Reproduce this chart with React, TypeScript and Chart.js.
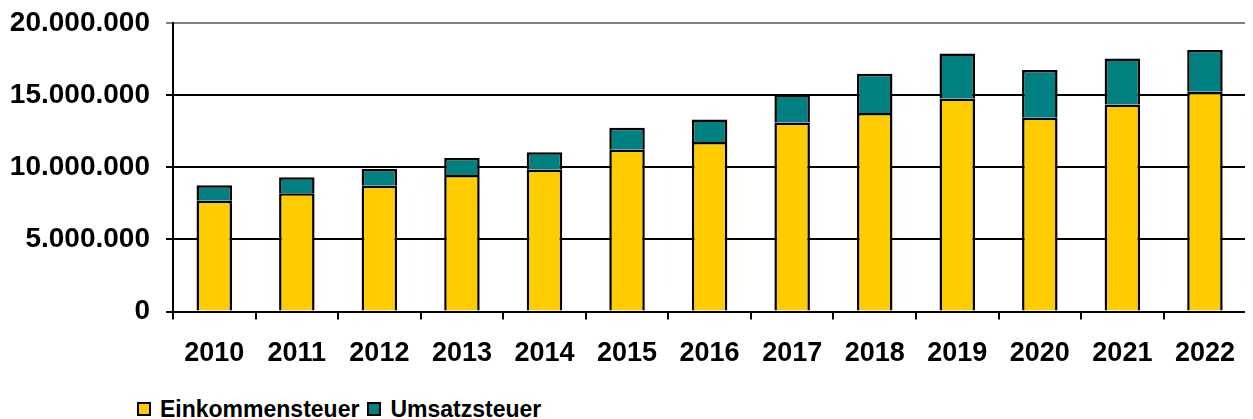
import React, { useEffect, useRef } from "react";
import { Chart, registerables } from "chart.js";

Chart.register(...registerables);

const years = ["2010", "2011", "2012", "2013", "2014", "2015", "2016", "2017", "2018", "2019", "2020", "2021", "2022"];
const einkommensteuer = [7680000, 8190000, 8720000, 9460000, 9830000, 11210000, 11740000, 13100000, 13750000, 14760000, 13430000, 14350000, 15220000];
const umsatzsteuer = [1070000, 1110000, 1150000, 1180000, 1200000, 1520000, 1570000, 1940000, 2720000, 3120000, 3300000, 3180000, 2890000];
const seriesNames = ["Einkommensteuer", "Umsatzsteuer"];
const seriesColors = ["#FFCC00", "#008080"];

const FONT = "'Liberation Sans', Arial, sans-serif";

const fmt = (v: number) => v.toLocaleString("de-DE");

const frame = {
  id: "frame",
  afterDraw(chart: any) {
    const { ctx, chartArea } = chart;
    ctx.save();
    ctx.strokeStyle = "#808080";
    ctx.lineWidth = 2;
    ctx.beginPath();
    ctx.moveTo(chartArea.right, chartArea.top);
    ctx.lineTo(chartArea.right, chartArea.bottom);
    ctx.stroke();
    ctx.restore();
  },
};

export default function App() {
  const ref = useRef<HTMLCanvasElement>(null);
  useEffect(() => {
    if (!ref.current) return;
    const chart = new Chart(ref.current, {
      type: "bar",
      data: {
        labels: years,
        datasets: [
          {
            label: seriesNames[0],
            data: einkommensteuer,
            backgroundColor: seriesColors[0],
            borderColor: "#000",
            borderWidth: 2.5,
            barPercentage: 0.43,
            categoryPercentage: 1,
          },
          {
            label: seriesNames[1],
            data: umsatzsteuer,
            backgroundColor: seriesColors[1],
            borderColor: "#000",
            borderWidth: 2.5,
            barPercentage: 0.43,
            categoryPercentage: 1,
          },
        ],
      },
      options: {
        animation: false,
        responsive: false,
        maintainAspectRatio: false,
        layout: { padding: { top: 0, right: 1, left: 0, bottom: 0 } },
        plugins: { legend: { display: false }, tooltip: { enabled: false } },
        scales: {
          x: {
            stacked: true,
            offset: true,
            grid: {
              offset: true,
              drawOnChartArea: false,
              drawTicks: true,
              tickLength: 8,
              color: "#000",
              lineWidth: 2,
            },
            border: { color: "#000", width: 2 },
            ticks: {
              color: "#000",
              padding: 18,
              font: { family: FONT, size: 27, weight: "bold" },
              maxRotation: 0,
            },
          },
          y: {
            stacked: true,
            min: 0,
            max: 20000000,
            afterFit(scale: any) {
              scale.width = 165;
            },
            grid: {
              color: (c: any) => (c.tick && c.tick.value === 20000000 ? "#808080" : "#000"),
              lineWidth: 2,
              tickLength: 7,
            },
            border: { color: "#000", width: 2 },
            ticks: {
              stepSize: 5000000,
              color: "#000",
              padding: 16,
              font: { family: FONT, size: 28, weight: "bold" },
              callback: (v: any) => fmt(Number(v)),
            },
          },
        },
      },
      plugins: [frame],
    });
    return () => chart.destroy();
  }, []);

  return (
    <div style={{ position: "relative", width: 1245, height: 411 }}>
      <canvas
        ref={ref}
        width={1245}
        height={398}
        style={{ display: "block", position: "absolute", left: 0, top: -18 }}
      />
      <div
        style={{
          position: "absolute",
          left: 129,
          top: 389,
          display: "flex",
          alignItems: "center",
          fontFamily: FONT,
          fontWeight: "bold",
          fontSize: 23,
          color: "#000",
          lineHeight: "24px",
        }}
      >
        {seriesNames.map((n, i) => (
          <div key={n} style={{ display: "flex", alignItems: "center", marginRight: 8 }}>
            <span
              style={{
                display: "inline-block",
                width: 10,
                height: 10,
                background: seriesColors[i],
                border: "2px solid #000",
                marginRight: 9,
              }}
            />
            <span>{n}</span>
          </div>
        ))}
      </div>
    </div>
  );
}
